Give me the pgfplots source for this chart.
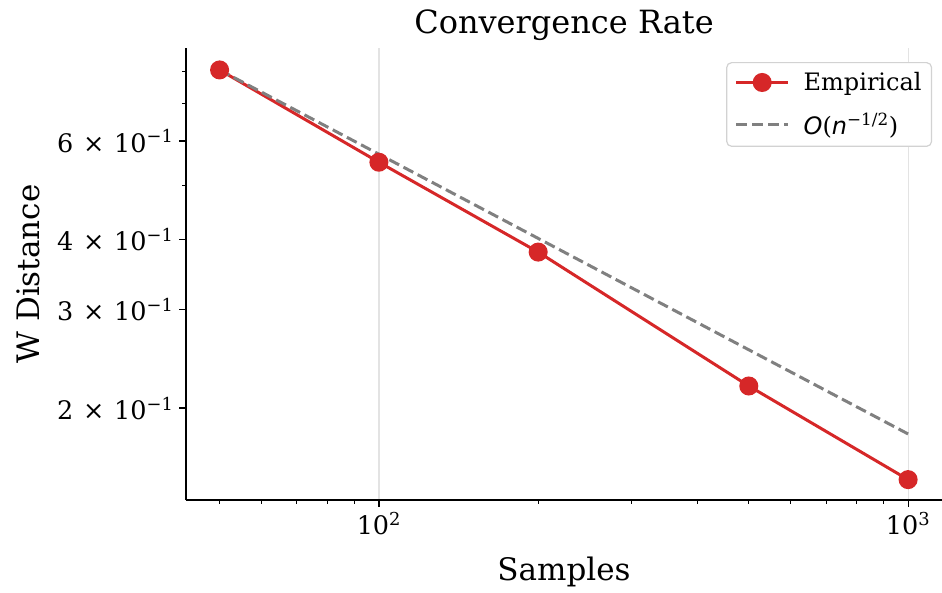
\documentclass[border=0pt]{standalone}
\usepackage{fontspec}
\setmainfont{DejaVu Serif}
\newfontfamily\mathsans{DejaVu Sans}
\usepackage{pgfplots}
\pgfplotsset{compat=1.18}
\definecolor{tabred}{HTML}{D62728}
\definecolor{refgray}{HTML}{808080}
\definecolor{gridgray}{HTML}{E3E3E3}
\newcommand{\sci}[1]{#1\hspace{0.38em}×\hspace{0.38em}10\textsuperscript{−1}}

\begin{document}
\begin{tikzpicture}
\begin{axis}[
    name=ax,
    at={(0,0)}, anchor=south west,
    scale only axis,
    width=756pt, height=452pt,
    xmode=log, ymode=log,
    xmin=43.2, xmax=1159,
    ymin=0.137, ymax=0.88,
    axis x line*=bottom, axis y line*=left,
    axis line style={line width=1.6pt, -},
    tick align=outside,
    major tick length=7pt, minor tick length=4pt,
    every tick/.style={black, line width=1.2pt},
    minor tick style={line width=1pt},
    xtick={100,1000},
    xticklabels={10\textsuperscript{2}, 10\textsuperscript{3}},
    minor xtick={50,60,70,80,90,200,300,400,500,600,700,800,900},
    ytick={0.2,0.3,0.4,0.6},
    yticklabels={\sci{2}, \sci{3}, \sci{4}, \sci{6}},
    minor ytick={0.5,0.7,0.8},
    xmajorgrids,
    grid style={gridgray, line width=1.2pt},
    tick label style={font=\fontsize{25.5}{30}\selectfont},
    xticklabel style={yshift=-2pt},
    yticklabel style={xshift=-2pt},
    every axis x label/.style={at={(axis description cs:0.5,0)}, yshift=-72pt, anchor=center, font=\fontsize{31}{36}\selectfont},
    every axis y label/.style={at={(axis description cs:0,0.5)}, xshift=-158pt, rotate=90, anchor=center, font=\fontsize{31}{36}\selectfont},
    xlabel={Samples},
    ylabel={W Distance},
    title={Convergence Rate},
    title style={font=\fontsize{32}{36}\selectfont, at={(axis description cs:0.5,1)}, yshift=17pt, anchor=center},
    legend style={at={(rel axis cs:0.987,0.969)}, anchor=north east,
        draw=gray!35, line width=1.2pt, rounded corners=5pt,
        font=\fontsize{24}{28}\selectfont,
        inner xsep=8pt, inner ysep=8pt, row sep=17pt,
        /tikz/every odd column/.append style={column sep=12pt}},
    legend cell align=left,
    legend image post style={sharp corners},
    legend image code/.code={
        \draw[#1] (0pt,0pt) -- (52pt,0pt);
        \path[#1, draw=none] plot coordinates {(26pt,0pt)};
    },
]
\addplot[tabred, line width=3pt, mark=*, mark size=8pt, mark options={solid, fill=tabred, draw=tabred}]
    coordinates {
        (50,0.804)
        (100,0.550)
        (200,0.380)
        (500,0.219)
        (1000,0.149)
    };
\addlegendentry{Empirical}
\addplot[refgray, line width=3pt, dash pattern=on 11pt off 5pt, mark=none]
    coordinates {
        (50,0.804)
        (100,0.5685)
        (200,0.402)
        (500,0.2542)
        (1000,0.1798)
    };
\addlegendentry{{\mathsans\itshape O}({\mathsans\itshape n}\textsuperscript{−1/2})}
\end{axis}
\pgfresetboundingbox
\path (-186pt,-93pt) rectangle (756pt,500pt);
\end{tikzpicture}
\end{document}
